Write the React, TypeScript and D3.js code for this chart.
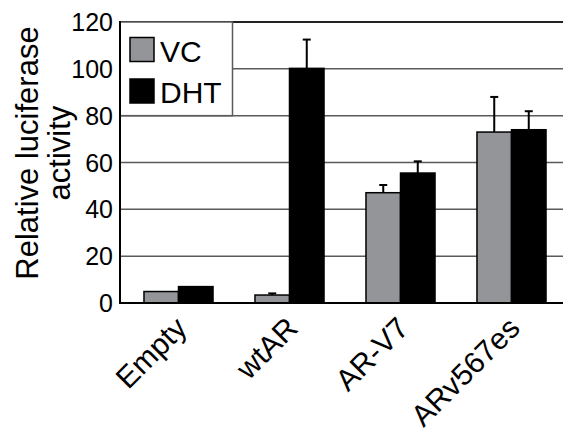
import React from "react";
import * as d3 from "d3";

const categories = ["Empty", "wtAR", "AR-V7", "ARv567es"];
const seriesNames = ["VC", "DHT"];
const vcValues = [4.9, 3.4, 47.1, 73.0];
const vcErrors = [0, 0.7, 3.3, 15.0];
const dhtValues = [7.0, 100.2, 55.5, 74.0];
const dhtErrors = [0, 12.3, 5.0, 7.9];
const yTicks = [0, 20, 40, 60, 80, 100, 120];

const colors: Record<string, string> = { VC: "#939598", DHT: "#000000" };

const width = 563;
const height = 433;
const left = 120;
const top = 22;
const bottom = 303;

const App = () => {
  const x0 = d3
    .scaleBand<string>()
    .domain(categories)
    .range([123, 567])
    .paddingInner(0.378)
    .paddingOuter(0.189);
  const x1 = d3
    .scaleBand<string>()
    .domain(seriesNames)
    .range([0, x0.bandwidth()]);
  const y = d3.scaleLinear().domain([0, 120]).range([bottom, top]);

  const rows = categories.map((c, i) => ({
    cat: c,
    bars: [
      { name: "VC", value: vcValues[i], err: vcErrors[i] },
      { name: "DHT", value: dhtValues[i], err: dhtErrors[i] },
    ],
  }));

  const font = "'Liberation Sans', Arial, Helvetica, sans-serif";

  return (
    <svg
      width={width}
      height={height}
      style={{ position: "absolute", left: 0, top: 0, background: "#fff" }}
      fontFamily={font}
    >
      {/* grid lines */}
      {yTicks
        .filter((t) => t > 0 && t < 120)
        .map((t) => (
          <line
            key={t}
            x1={left}
            x2={width}
            y1={y(t)}
            y2={y(t)}
            stroke="#5a5a5a"
            strokeWidth={1.5}
          />
        ))}
      <line x1={left} x2={width} y1={y(120)} y2={y(120)} stroke="#222" strokeWidth={2} />

      {/* legend */}
      <rect x={left} y={top} width={112.5} height={y(80) - top} fill="#fff" stroke="#5a5a5a" strokeWidth={1.5} />
      {seriesNames.map((s, i) => (
        <g key={s}>
          <rect
            x={130}
            y={37.5 + i * 41.5}
            width={24}
            height={24}
            fill={colors[s]}
            stroke="#000"
            strokeWidth={1.5}
          />
          <text x={160} y={61.5 + i * 41.5} fontSize={30} fill="#000">
            {s}
          </text>
        </g>
      ))}

      {/* bars */}
      {rows.map((r) => (
        <g key={r.cat} transform={`translate(${x0(r.cat)},0)`}>
          {r.bars.map((b) => (
            <rect
              key={b.name}
              x={x1(b.name)}
              y={y(b.value)}
              width={x1.bandwidth()}
              height={y(0) - y(b.value)}
              fill={colors[b.name]}
              stroke="#000"
              strokeWidth={1.5}
            />
          ))}
          {r.bars
            .filter((b) => b.err > 0)
            .map((b) => {
              const cx = (x1(b.name) as number) + x1.bandwidth() / 2;
              return (
                <g key={b.name + "err"} stroke="#000" strokeWidth={2}>
                  <line x1={cx} x2={cx} y1={y(b.value)} y2={y(b.value + b.err)} />
                  <line x1={cx - 4} x2={cx + 4} y1={y(b.value + b.err)} y2={y(b.value + b.err)} />
                </g>
              );
            })}
        </g>
      ))}

      {/* axes */}
      <line x1={left} x2={left} y1={top - 1} y2={bottom + 1} stroke="#000" strokeWidth={2} />
      <line x1={left - 1} x2={width} y1={bottom} y2={bottom} stroke="#000" strokeWidth={2} />

      {yTicks.map((t) => (
        <text
          key={t}
          x={113}
          y={y(t)}
          dy="0.36em"
          textAnchor="end"
          fontSize={25}
          fill="#000"
        >
          {t}
        </text>
      ))}

      {categories.map((c) => (
        <text
          key={c}
          transform={`translate(${(x0(c) as number) + x0.bandwidth() / 2 + 10},330) rotate(-45)`}
          textAnchor="end"
          fontSize={30}
          fill="#000"
        >
          {c}
        </text>
      ))}

      <text transform="translate(38,153) rotate(-90)" textAnchor="middle" fontSize={31} fill="#000">
        <tspan x={0} y={0}>Relative luciferase</tspan>
        <tspan x={0} y={32}>activity</tspan>
      </text>
    </svg>
  );
};

export default App;
